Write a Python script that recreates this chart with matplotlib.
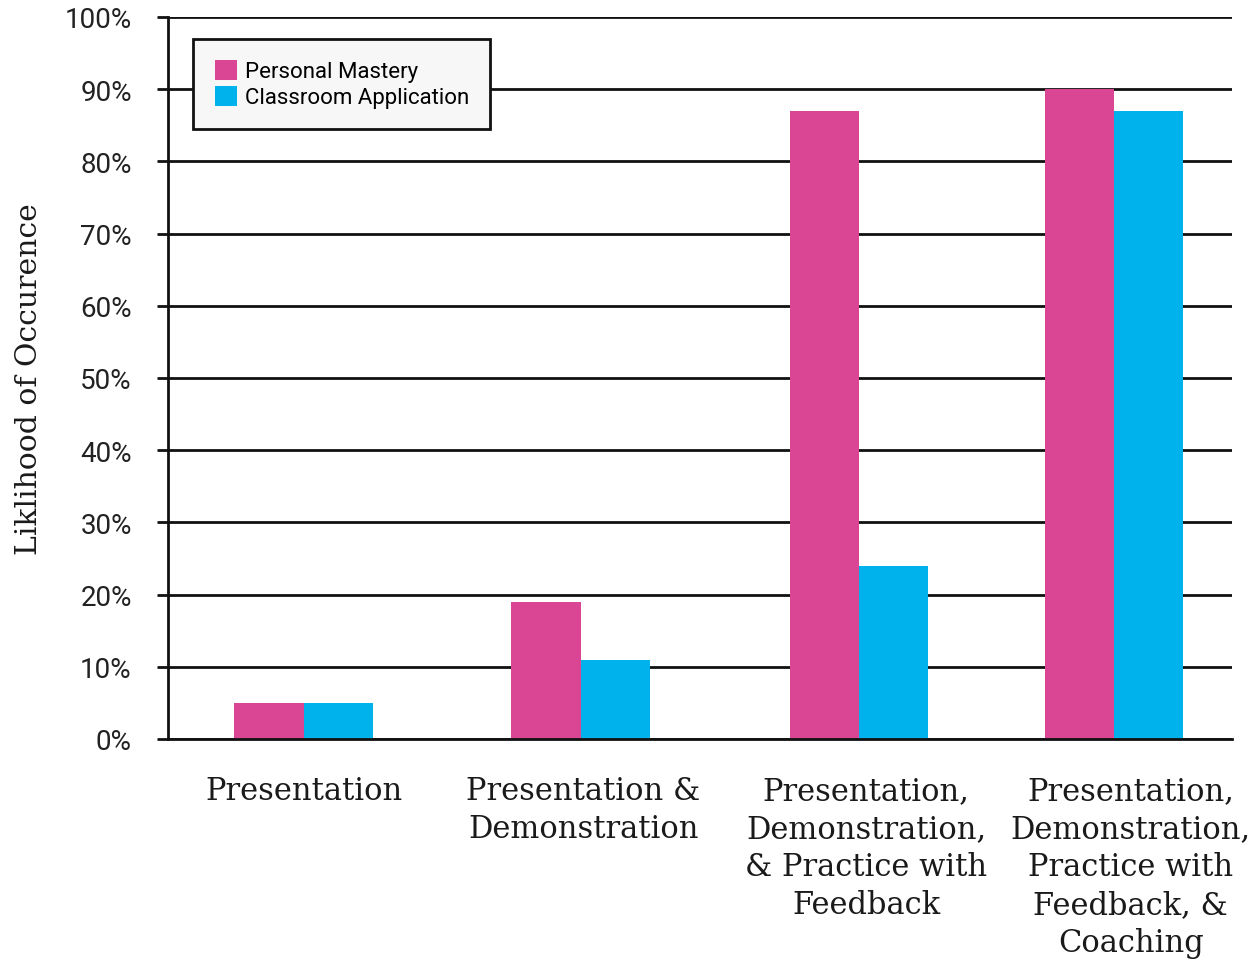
import matplotlib.pyplot as plt
import numpy as np

# training components vs. likelihood of outcome
categories = ["Presentation",
              "Presentation &\nDemonstration",
              "Presentation,\nDemonstration,\n& Practice with\nFeedback",
              "Presentation,\nDemonstration,\nPractice with\nFeedback, &\nCoaching"]
personal_mastery = [5, 19, 87, 90]
classroom_application = [5, 11, 24, 87]
yticks = [0, 10, 20, 30, 40, 50, 60, 70, 80, 90, 100]
ytick_labels = [f"{v}%" for v in yticks]

# group centres (the original spacing is not quite even)
group_pos = np.array([0.49, 1.49, 2.495, 3.415])
bar_w = 0.25
# the category labels sit a little right of their bars (in points)
label_shift = [0, 2, 5, 12]

pink = '#DA4594'
blue = '#00B2EC'

fig = plt.figure(figsize=(12.53, 9.62), dpi=100)
ax = fig.add_axes([0.134, 0.2308, 0.849, 0.7505])

ax.bar(group_pos - bar_w / 2, personal_mastery, bar_w, color=pink,
       label='Personal Mastery', zorder=3)
ax.bar(group_pos + bar_w / 2, classroom_application, bar_w, color=blue,
       label='Classroom Application', zorder=3)

ax.set_xlim(0, 3.84)
ax.set_ylim(0, 100)

ax.set_yticks(yticks)
ax.set_yticklabels(ytick_labels, family='Roboto', fontsize=20, color='#222222')
ax.set_xticks(group_pos)
ax.set_xticklabels([])

# category names under each group
for x, name, dx in zip(group_pos, categories, label_shift):
    ax.annotate(name, xy=(x, 0), xycoords=('data', 'axes fraction'),
                xytext=(dx, -26), textcoords='offset points',
                ha='center', va='top', multialignment='center',
                family='DejaVu Serif', fontsize=22, color='#1a1a1a',
                linespacing=1.29, annotation_clip=False)

ax.tick_params(axis='y', length=8, width=2, color='#111111', pad=18)
ax.tick_params(axis='x', length=0)

ax.yaxis.grid(True, color='#111111', linewidth=2, zorder=1)
ax.set_axisbelow(True)

for side in ['top', 'right']:
    ax.spines[side].set_visible(False)
for side in ['left', 'bottom']:
    ax.spines[side].set_linewidth(2)
    ax.spines[side].set_color('#111111')
    ax.spines[side].set_zorder(4)

ax.set_ylabel("Liklihood of Occurence", family='DejaVu Serif', fontsize=21.5,
              color='#1a1a1a')
ax.yaxis.set_label_coords(-0.117, 0.5)

leg = ax.legend(loc='upper left', bbox_to_anchor=(0.024, 0.97),
                prop={'family': 'Roboto', 'size': 16}, fancybox=False,
                framealpha=1, facecolor='#f7f7f7', edgecolor='#111111',
                handlelength=1.0, handleheight=1.0, handletextpad=0.35,
                labelspacing=0.15, borderpad=0.95, borderaxespad=0)
leg.get_frame().set_linewidth(2)
leg.set_zorder(5)

fig.savefig('out.png', dpi=100)
